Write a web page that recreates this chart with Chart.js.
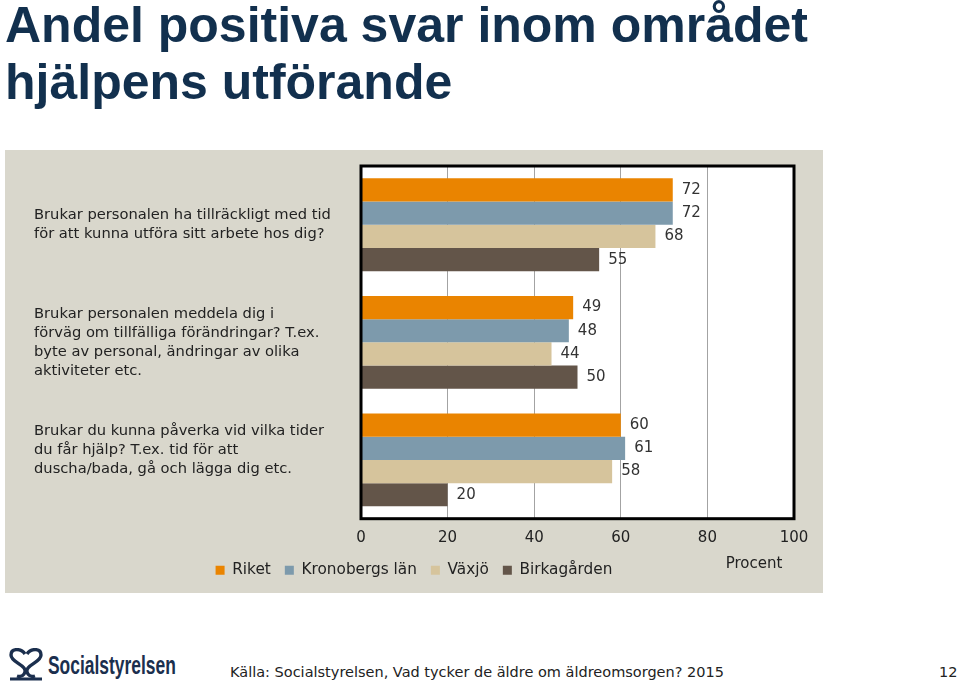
<!DOCTYPE html>
<html lang="sv">
<head>
<meta charset="utf-8">
<title>Andel positiva svar inom området hjälpens utförande</title>
<script src="https://cdn.jsdelivr.net/npm/chart.js@4.4.1/dist/chart.umd.min.js"></script>
<style>
  html, body { margin: 0; padding: 0; background: #fff; }
  body { width: 959px; height: 688px; position: relative; overflow: hidden; font-family: "DejaVu Sans", sans-serif; }
  #title { position: absolute; left: 5px; top: -3px; margin: 0; font-family: "Liberation Sans", Arial, sans-serif; font-weight: bold; font-size: 50px; line-height: 57px; color: #12304e; }
  #panel { position: absolute; left: 5px; top: 150px; width: 818px; height: 443px; background: #d9d7cc; }
  #logo { position: absolute; left: 8px; top: 648px; height: 34px; display: flex; align-items: center; }
  #logo span { display: inline-block; font-family: "Liberation Sans", sans-serif; font-weight: bold; font-size: 26px; color: #1b2f4e; margin-left: 4px; transform: scaleX(0.67); transform-origin: left center; }
  #source { position: absolute; left: 230px; top: 664px; font-size: 14.5px; color: #222; }
  #page { position: absolute; left: 939px; top: 664px; font-size: 14.5px; color: #222; }
</style>
</head>
<body>
<h1 id="title">Andel positiva svar inom området<br>hjälpens utförande</h1>
<div id="panel"><canvas id="chart-area"></canvas></div>
<div id="logo">
  <svg width="36" height="34" viewBox="0 0 36 34">
    <path d="M17 6 C13 0 3 0 3 7 C3 13 12 15 16 20 C19 24 15 30 9 28 M19 6 C23 0 33 0 33 7 C33 13 24 15 20 20 C17 24 21 30 27 28" fill="none" stroke="#1b2f4e" stroke-width="3.4"/>
    <path d="M2 31 L34 31" stroke="#1b2f4e" stroke-width="3"/>
  </svg>
  <span>Socialstyrelsen</span>
</div>
<div id="source">Källa: Socialstyrelsen, Vad tycker de äldre om äldreomsorgen? 2015</div>
<div id="page">12</div>
<script>
var questions = [
    ['Brukar personalen ha tillräckligt med tid', 'för att kunna utföra sitt arbete hos dig?'],
    ['Brukar personalen meddela dig i', 'förväg om tillfälliga förändringar? T.ex.', 'byte av personal, ändringar av olika', 'aktiviteter etc.'],
    ['Brukar du kunna påverka vid vilka tider', 'du får hjälp? T.ex. tid för att', 'duscha/bada, gå och lägga dig etc.', '']
];
var seriesNames = ['Riket', 'Kronobergs län', 'Växjö', 'Birkagården'];
var riket = [72, 49, 60];
var kronoberg = [72, 48, 61];
var vaxjo = [68, 44, 58];
var birkagarden = [55, 50, 20];
var xTicks = [0, 20, 40, 60, 80, 100];
var axisTitle = 'Procent';

var colors = ['#ea8400', '#7d9aac', '#d6c49c', '#635549'];
var seriesValues = [riket, kronoberg, vaxjo, birkagarden];

// white plot area + black frame
var plotFrame = {
    id: 'plotFrame',
    beforeDraw: function(chart) {
        var a = chart.chartArea, ctx = chart.ctx;
        ctx.save();
        ctx.fillStyle = '#fff';
        ctx.fillRect(a.left, a.top, a.right - a.left, a.bottom - a.top);
        ctx.restore();
    },
    afterDraw: function(chart) {
        var a = chart.chartArea, ctx = chart.ctx;
        ctx.save();
        ctx.strokeStyle = '#000';
        ctx.lineWidth = 3;
        ctx.strokeRect(a.left, a.top, a.right - a.left, a.bottom - a.top);
        // axis title at right end
        ctx.fillStyle = '#222';
        ctx.font = '15px "DejaVu Sans"';
        ctx.textAlign = 'center';
        ctx.textBaseline = 'middle';
        ctx.fillText(axisTitle, chart.scales.x.getPixelForValue(100) - 40, a.bottom + 45);
        ctx.restore();
    }
};

// value labels right of each bar
var valueLabels = {
    id: 'valueLabels',
    afterDatasetsDraw: function(chart) {
        var ctx = chart.ctx;
        ctx.save();
        ctx.fillStyle = '#333';
        ctx.font = '15px "DejaVu Sans"';
        ctx.textAlign = 'left';
        ctx.textBaseline = 'middle';
        chart.data.datasets.forEach(function(ds, i) {
            chart.getDatasetMeta(i).data.forEach(function(bar, j) {
                ctx.fillText(ds.data[j], bar.x + 9, bar.y);
            });
        });
        ctx.restore();
    }
};

var config = {
    type: 'bar',
    data: {
        labels: questions,
        datasets: seriesNames.map(function(name, i) {
            return {
                label: name,
                data: seriesValues[i],
                backgroundColor: colors[i],
                borderWidth: 0,
                barPercentage: 1,
                categoryPercentage: 0.79
            };
        })
    },
    options: {
        indexAxis: 'y',
        responsive: true,
        maintainAspectRatio: false,
        animation: false,
        layout: {
            padding: { left: 29, right: 29, top: 16, bottom: 5 }
        },
        scales: {
            x: {
                min: 0,
                max: 100,
                afterBuildTicks: function(scale) {
                    scale.ticks = xTicks.map(function(v) { return { value: v }; });
                },
                grid: { color: '#a3a3a3', lineWidth: 1, drawTicks: false },
                border: { display: false },
                ticks: {
                    color: '#222',
                    padding: 10,
                    font: { family: 'DejaVu Sans', size: 15 }
                },
                afterFit: function(scale) {
                    scale.height = scale.height - 8;
                }
            },
            y: {
                grid: { display: false },
                border: { display: false },
                ticks: {
                    color: '#222',
                    crossAlign: 'far',
                    padding: 10,
                    font: { family: 'DejaVu Sans', size: 14.7, lineHeight: 1.3 }
                },
                afterFit: function(scale) {
                    scale.width = 327;
                    scale.paddingTop = 0;
                    scale.paddingBottom = 0;
                }
            }
        },
        plugins: {
            legend: {
                position: 'bottom',
                labels: {
                    color: '#222',
                    boxWidth: 9,
                    boxHeight: 9,
                    padding: 14,
                    font: { family: 'DejaVu Sans', size: 15.3 }
                }
            },
            tooltip: { enabled: false }
        }
    },
    plugins: [plotFrame, valueLabels]
};

window.onload = function() {
    var ctx = document.getElementById('chart-area').getContext('2d');
    window.myBar = new Chart(ctx, config);
};
</script>
</body>
</html>
